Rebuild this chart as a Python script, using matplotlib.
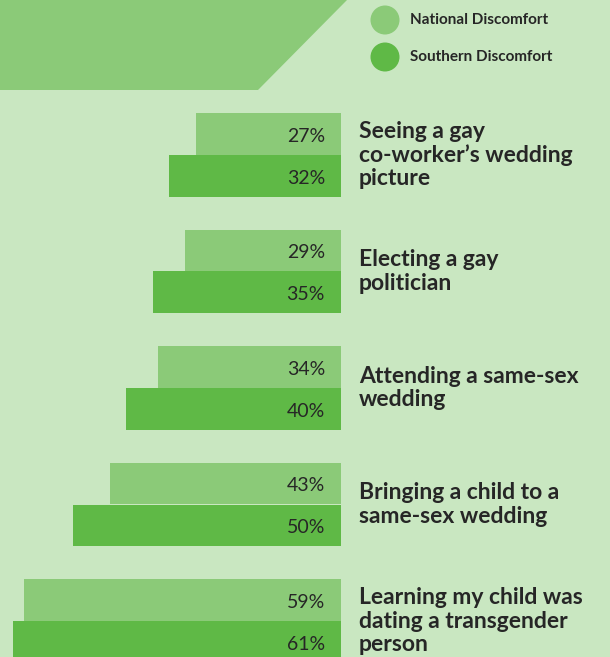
import matplotlib.pyplot as plt
from matplotlib.patches import Polygon, Circle

labels = [
    "Seeing a gay\nco-worker\u2019s wedding\npicture",
    "Electing a gay\npolitician",
    "Attending a same-sex\nwedding",
    "Bringing a child to a\nsame-sex wedding",
    "Learning my child was\ndating a transgender\nperson",
]
national = [27, 29, 34, 43, 59]
southern = [32, 35, 40, 50, 61]

bg = "#c9e7c1"
c_nat = "#8bca78"
c_sou = "#5fb946"
txt = "#262626"

fig = plt.figure(figsize=(6.1, 6.57), dpi=100, facecolor=bg)

# decoration layer in pixel units
deco = fig.add_axes([0, 0, 1, 1])
deco.set_xlim(0, 610)
deco.set_ylim(657, 0)
deco.axis("off")
deco.add_patch(Polygon([(0, 0), (347, 0), (258, 90), (0, 90)], closed=True,
                       facecolor=c_nat, edgecolor="none"))
for yy, col, name in [(20, c_nat, "National Discomfort"), (57, c_sou, "Southern Discomfort")]:
    deco.add_patch(Circle((385, yy), 14.5, facecolor=col, edgecolor="none"))
    deco.text(410, yy, name, fontsize=11, fontweight="bold", color=txt,
              family="Lato", va="center", ha="left")

# bars
ax = fig.add_axes([0, 0, 1, 1])
ax.patch.set_alpha(0)
ax.set_xlim(341 / 5.37, -269 / 5.37)
ax.set_ylim((657 - 155) / 116.5, -155 / 116.5)
ax.axis("off")

ys = list(range(len(labels)))
h = 0.36
ax.barh([y - 0.18 for y in ys], national, height=h, color=c_nat, left=0)
ax.barh([y + 0.18 for y in ys], southern, height=h, color=c_sou, left=0)

for y, n, s, lab in zip(ys, national, southern, labels):
    ax.text(3, y - 0.16, f"{n}%", ha="right", va="center", fontsize=14,
            color=txt, family="Lato")
    ax.text(3, y + 0.20, f"{s}%", ha="right", va="center", fontsize=14,
            color=txt, family="Lato")
    ax.text(-3.3, y, lab, ha="left", va="center", fontsize=16.5, fontweight="bold",
            color=txt, family="Lato", linespacing=1.15)

plt.savefig("out.png", dpi=100, facecolor=bg)
